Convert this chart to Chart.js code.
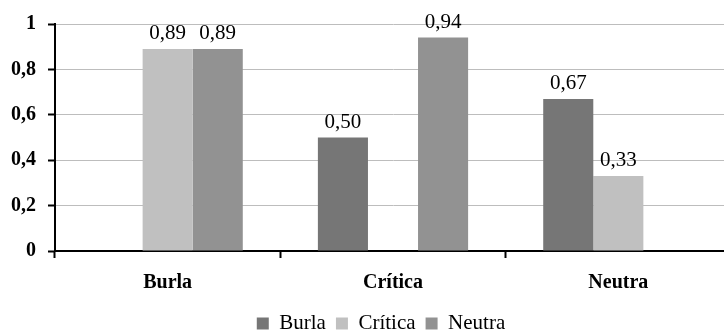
<!DOCTYPE html>
<html>
<head>
<meta charset="utf-8">
<script src="https://cdn.jsdelivr.net/npm/chart.js@4/dist/chart.umd.min.js"></script>
<style>
  html, body { margin: 0; padding: 0; background: #fff; overflow: hidden; }
  #wrap { width: 762px; height: 344px; }
</style>
</head>
<body>
<div id="wrap"><canvas id="c" width="762" height="344"></canvas></div>
<script>
const categories = ['Burla', 'Crítica', 'Neutra'];
const seriesNames = ['Burla', 'Crítica', 'Neutra'];
const burlaValues = [0, 0.50, 0.67];
const criticaValues = [0.89, 0, 0.33];
const neutraValues = [0.89, 0.94, 0];
const yTickValues = [0, 0.2, 0.4, 0.6, 0.8, 1];
const seriesColors = ['#767676', '#c0c0c0', '#929292'];

const FONT = "'Liberation Serif', 'Times New Roman', serif";
const fmt = v => v === 0 ? '0' : (Math.round(v * 100) / 100).toString().replace('.', ',');
const fmtLabel = v => v.toFixed(2).replace('.', ',');

const valueLabels = {
  id: 'valueLabels',
  afterDatasetsDraw(chart) {
    const ctx = chart.ctx;
    ctx.save();
    ctx.font = '21px ' + FONT;
    ctx.fillStyle = '#000';
    ctx.textAlign = 'center';
    ctx.textBaseline = 'alphabetic';
    chart.data.datasets.forEach((ds, di) => {
      const meta = chart.getDatasetMeta(di);
      meta.data.forEach((bar, i) => {
        const v = ds.data[i];
        if (!v) return;
        ctx.fillText(fmtLabel(v), bar.x, bar.y - 10);
      });
    });
    ctx.restore();
  }
};

new Chart(document.getElementById('c'), {
  type: 'bar',
  data: {
    labels: categories,
    datasets: [
      { label: seriesNames[0], data: burlaValues, backgroundColor: seriesColors[0] },
      { label: seriesNames[1], data: criticaValues, backgroundColor: seriesColors[1] },
      { label: seriesNames[2], data: neutraValues, backgroundColor: seriesColors[2] }
    ]
  },
  options: {
    responsive: false,
    animation: false,
    devicePixelRatio: 1,
    layout: { padding: { top: 23, left: 0, right: 0, bottom: 0 } },
    datasets: { bar: { categoryPercentage: 0.6667, barPercentage: 1.0, borderWidth: 0 } },
    plugins: {
      legend: {
        position: 'bottom',
        labels: {
          boxWidth: 12, boxHeight: 12, padding: 10,
          color: '#000',
          font: { family: FONT, size: 21 }
        }
      },
      tooltip: { enabled: false }
    },
    scales: {
      x: {
        offset: true,
        grid: { display: true, drawOnChartArea: false, drawTicks: true, tickLength: 7, tickColor: '#000', tickWidth: 2, offset: true },
        border: { display: true, color: '#000', width: 2 },
        ticks: { color: '#000', padding: 13, font: { family: FONT, size: 20, weight: 'bold' }, maxRotation: 0 },
        afterFit: s => { s.height = 52; }
      },
      y: {
        min: 0, max: 1,
        afterBuildTicks: s => { s.ticks = yTickValues.map(v => ({ value: v })); },
        grid: { color: '#bdbdbd', lineWidth: 1, drawTicks: true, tickLength: 7, tickColor: '#000', tickWidth: 2 },
        border: { display: true, color: '#000', width: 2 },
        ticks: { color: '#000', padding: 12, font: { family: FONT, size: 20, weight: 'bold' }, callback: v => fmt(v) },
        afterFit: s => { s.width = 55; }
      },
      y2: {
        position: 'right',
        display: true,
        grid: { display: false, drawTicks: false },
        border: { display: false },
        ticks: { display: false },
        afterFit: s => { s.width = 31; }
      }
    }
  },
  plugins: [valueLabels]
});
</script>
</body>
</html>
